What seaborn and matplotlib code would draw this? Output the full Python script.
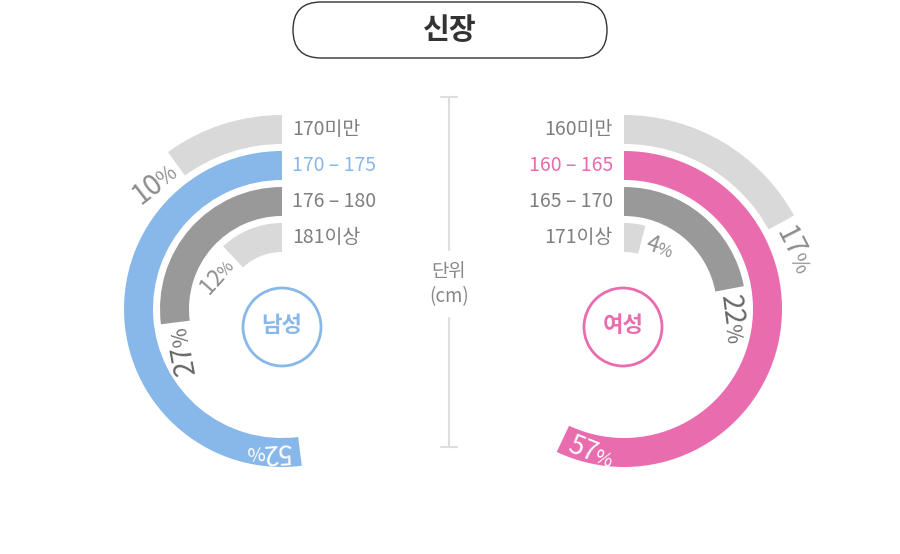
import numpy as np
import matplotlib
matplotlib.use("Agg")
import matplotlib.pyplot as plt
import seaborn as sns
from matplotlib.patches import FancyBboxPatch, Circle
from matplotlib.transforms import offset_copy

# ---------------- data ----------------
title = "신장"
unit_lines = ["단위", "(cm)"]

male_title = "남성"
male_categories = ["170미만", "170 – 175", "176 – 180", "181이상"]
male_values = [10, 52, 27, 12]

female_title = "여성"
female_categories = ["160미만", "160 – 165", "165 – 170", "171이상"]
female_values = [17, 57, 22, 4]

highlight = 1  # ring drawn in the accent colour

# ---------------- style ----------------
sns.set_theme(style="white")
plt.rcParams["font.family"] = ["Noto Sans CJK KR", "DejaVu Sans"]

LIGHT = "#d9d9d9"
DARK = "#999999"
BLUE = "#88b8e9"
PINK = "#e96caf"
male_colors = sns.color_palette([LIGHT, BLUE, DARK, LIGHT])
female_colors = sns.color_palette([LIGHT, PINK, DARK, LIGHT])
label_colors = ["#8c8c8c", "white", "#666666", "#8c8c8c"]
label_sizes = [20, 19, 20, 16]

W, H = 900, 554
fig = plt.figure(figsize=(W / 100, H / 100), dpi=100)
fig.patch.set_facecolor("white")
renderer = fig.canvas.get_renderer()

# overlay axes in pixel coordinates
ov = fig.add_axes([0, 0, 1, 1])
ov.set_xlim(0, W)
ov.set_ylim(H, 0)
ov.axis("off")

RING_W = 29
OUTER = [194, 158, 122, 86]
INNER = [o - RING_W for o in OUTER]
MID = [o - RING_W / 2 for o in OUTER]
CY = 309
RMAX = 200


def text_width(s, fs):
    t = fig.text(0, 0, s, fontsize=fs)
    w = t.get_window_extent(renderer=renderer).width
    t.remove()
    return w


def pct_label(ax, phi, r, rot, ha, value, fs, color):
    """Number with a smaller % sign, written along a rotated baseline."""
    digits = str(value)
    pfs = fs * 0.74
    fs_px = fs * 100 / 72
    wd = text_width(digits, fs) - 0.07 * fs_px
    wp = text_width("%", pfs)
    a = np.deg2rad(rot)
    u = np.array([np.cos(a), np.sin(a)])
    n = np.array([-np.sin(a), np.cos(a)])
    start = 0.0 if ha == "left" else -(wd + wp)
    base = -0.36 * fs_px * n
    pos = (np.deg2rad(phi), r)
    for s, size, off in [(digits, fs, start), ("%", pfs, start + wd)]:
        d = off * u + base
        tr = offset_copy(ax.transData, fig=fig, x=d[0], y=d[1], units="dots")
        ax.text(*pos, s, transform=tr, rotation=rot, rotation_mode="anchor",
                ha="left", va="baseline", fontsize=size, color=color)


def polar_axes(cx, cy, direction):
    rect = [(cx - RMAX) / W, (H - cy - RMAX) / H, 2 * RMAX / W, 2 * RMAX / H]
    ax = fig.add_axes(rect, projection="polar")
    ax.set_theta_zero_location("N")
    ax.set_theta_direction(direction)
    ax.set_ylim(0, RMAX)
    ax.set_axis_off()
    ax.patch.set_alpha(0)
    return ax


def draw_side(cx, values, colors, direction):
    ax = polar_axes(cx, CY, direction)
    for i, v in enumerate(values):
        ext = v * 3.6
        ax.bar(0, RING_W, width=np.deg2rad(ext), bottom=INNER[i],
               align="edge", color=colors[i], linewidth=0)
        r = MID[i]
        if i == highlight:
            phi = ext - np.rad2deg(8 / r)
            rot = phi if direction == 1 else 180 - phi
            ha = "left"
        else:
            phi = ext + np.rad2deg(6 / r)
            rot = phi if direction == 1 else -phi
            ha = "right" if direction == 1 else "left"
        pct_label(ax, phi, r, rot, ha, v, label_sizes[i], label_colors[i])
    return ax


draw_side(282, male_values, male_colors, 1)
draw_side(624, female_values, female_colors, -1)

# category labels
for i, (mc, fc) in enumerate(zip(male_categories, female_categories)):
    y = CY - MID[i]
    ov.text(292, y, mc, ha="left", va="center", fontsize=14,
            color=BLUE if i == highlight else "#7f7f7f")
    ov.text(613, y, fc, ha="right", va="center", fontsize=14,
            color=PINK if i == highlight else "#7f7f7f")

# centre badges
for (x, name, col) in [(282, male_title, BLUE), (623, female_title, PINK)]:
    ov.add_patch(Circle((x, 327), 39, fill=False, ec=col, lw=2))
    ov.text(x, 326, name, ha="center", va="center", fontsize=16,
            fontweight="bold", color=col)

# title pill
ov.add_patch(FancyBboxPatch((293, 2), 314, 56,
                            boxstyle="round,pad=0,rounding_size=28",
                            fill=False, ec="#333333", lw=1))
ov.text(450, 30, title, ha="center", va="center", fontsize=21,
        fontweight="bold", color="#333333")

# divider with unit label
lc = "#dedede"
ov.plot([449, 449], [97, 250], color=lc, lw=1.5)
ov.plot([449, 449], [318, 447], color=lc, lw=1.5)
ov.plot([441, 457], [97, 97], color=lc, lw=1.5)
ov.plot([441, 457], [447, 447], color=lc, lw=1.5)
ov.text(449, 271, unit_lines[0], ha="center", va="center", fontsize=13.5,
        color="#888888")
ov.text(449, 297, unit_lines[1], ha="center", va="center", fontsize=13.5,
        color="#888888")

fig.savefig("out.png", dpi=100, facecolor="white")
